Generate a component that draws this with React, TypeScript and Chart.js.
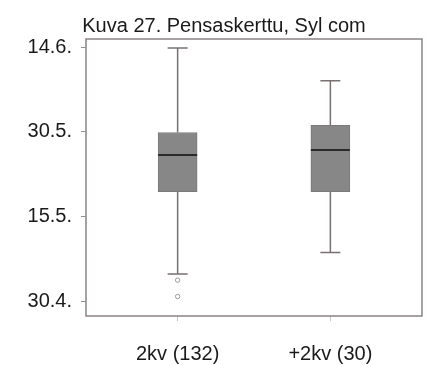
import React, { useEffect, useRef } from "react";
import { Chart, registerables } from "chart.js";

Chart.register(...registerables);

const titleText = "Kuva 27. Pensaskerttu, Syl com";
const categories = ["2kv (132)", "+2kv (30)"];
const categoryPositions = [1, 2];
// values are days after 30.4.
const whiskerLow = [4.8, 8.6];
const q1 = [19.4, 19.4];
const median = [25.9, 26.8];
const q3 = [29.9, 31.2];
const whiskerHigh = [44.9, 39.1];
const outliers = [[3.7, 0.8], []];
const yTickValues = [0, 15, 30, 45];
const yTickLabels = ["30.4.", "15.5.", "30.5.", "14.6."];

const FONT = "'Liberation Sans', Arial, sans-serif";

export default function App() {
  const ref = useRef<HTMLCanvasElement | null>(null);

  useEffect(() => {
    if (!ref.current) return;

    const boxPlugin = {
      id: "boxExtras",
      beforeDatasetsDraw(chart: any) {
        const { ctx, chartArea, scales } = chart;
        const xs = scales.x;
        const ys = scales.y;
        ctx.save();
        // frame
        ctx.strokeStyle = "#8c8282";
        ctx.lineWidth = 1.5;
        ctx.strokeRect(chartArea.left, chartArea.top, chartArea.right - chartArea.left, chartArea.bottom - chartArea.top);
        // whiskers
        ctx.strokeStyle = "#7a7070";
        ctx.lineWidth = 1.5;
        categoryPositions.forEach((pos, i) => {
          const cx = xs.getPixelForValue(pos);
          const capHalf = 10;
          const yLo = ys.getPixelForValue(whiskerLow[i]);
          const yHi = ys.getPixelForValue(whiskerHigh[i]);
          const yQ1 = ys.getPixelForValue(q1[i]);
          const yQ3 = ys.getPixelForValue(q3[i]);
          ctx.beginPath();
          ctx.moveTo(cx, yHi);
          ctx.lineTo(cx, yQ3);
          ctx.moveTo(cx, yQ1);
          ctx.lineTo(cx, yLo);
          ctx.moveTo(cx - capHalf, yHi);
          ctx.lineTo(cx + capHalf, yHi);
          ctx.moveTo(cx - capHalf, yLo);
          ctx.lineTo(cx + capHalf, yLo);
          ctx.stroke();
        });
        ctx.restore();
      },
      afterDatasetsDraw(chart: any) {
        const { ctx, scales } = chart;
        const xs = scales.x;
        const ys = scales.y;
        ctx.save();
        ctx.strokeStyle = "#2a2a2a";
        ctx.lineWidth = 2;
        categoryPositions.forEach((pos, i) => {
          const cx = xs.getPixelForValue(pos);
          const half = 19.5;
          const ym = ys.getPixelForValue(median[i]);
          ctx.beginPath();
          ctx.moveTo(cx - half, ym);
          ctx.lineTo(cx + half, ym);
          ctx.stroke();
        });
        ctx.restore();
      },
    };

    const outlierPoints: { x: number; y: number }[] = [];
    outliers.forEach((list, i) => list.forEach((v) => outlierPoints.push({ x: categoryPositions[i], y: v })));

    const chart = new Chart(ref.current, {
      type: "bar",
      data: {
        datasets: [
          {
            type: "bar",
            data: categoryPositions.map((p, i) => ({ x: p, y: [q1[i], q3[i]] })) as any,
            backgroundColor: "#878787",
            borderColor: "#7a7a7a",
            borderWidth: 1,
            borderSkipped: false,
            barThickness: 39,
            grouped: false,
          } as any,
          {
            type: "scatter",
            data: outlierPoints,
            pointRadius: 2.2,
            pointBackgroundColor: "#ffffff",
            pointBorderColor: "#9a9a9a",
            pointBorderWidth: 1,
          } as any,
        ],
      },
      plugins: [boxPlugin],
      options: {
        responsive: false,
        animation: false,
        layout: { padding: { left: 26, right: 6, top: 0, bottom: 0 } },
        plugins: {
          legend: { display: false },
          tooltip: { enabled: false },
          title: {
            display: true,
            text: titleText,
            color: "#1a1a1a",
            font: { family: FONT, size: 20, weight: "normal" },
            padding: { top: 14, bottom: 1 },
          },
        },
        scales: {
          x: {
            type: "linear",
            offset: false,
            min: 0.4,
            max: 2.6,
            afterBuildTicks: (scale: any) => {
              scale.ticks = categoryPositions.map((v) => ({ value: v }));
            },
            afterFit: (scale: any) => {
              scale.height = 49;
            },
            ticks: {
              callback: (v: any) => categories[categoryPositions.indexOf(Number(v))] ?? "",
              color: "#1a1a1a",
              font: { family: FONT, size: 20 },
              padding: 21,
              maxRotation: 0,
              autoSkip: false,
            },
            grid: { offset: false, drawOnChartArea: false, drawTicks: true, tickLength: 5, color: "#c8c4c4" },
            border: { display: false },
          },
          y: {
            type: "linear",
            min: -2.66,
            max: 46.5,
            afterBuildTicks: (scale: any) => {
              scale.ticks = yTickValues.map((v) => ({ value: v }));
            },
            afterFit: (scale: any) => {
              scale.width = 60;
            },
            ticks: {
              callback: (v: any) => yTickLabels[yTickValues.indexOf(Number(v))] ?? "",
              color: "#1a1a1a",
              font: { family: FONT, size: 20 },
              padding: 9,
              autoSkip: false,
            },
            grid: { drawOnChartArea: false, drawTicks: true, tickLength: 5, color: "#9a9090" },
            border: { display: false },
          },
        },
      } as any,
    });
    return () => chart.destroy();
  }, []);

  return (
    <div style={{ position: "fixed", left: 0, top: 0, width: 428, height: 365, background: "#ffffff" }}>
      <canvas ref={ref} width={428} height={365} />
    </div>
  );
}
